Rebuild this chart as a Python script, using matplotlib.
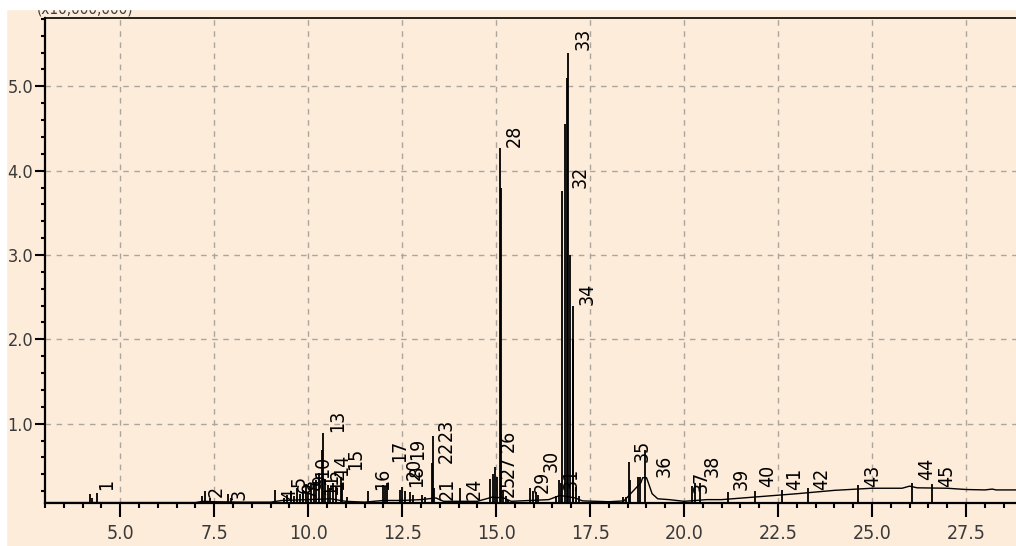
import os
import matplotlib
matplotlib.use('Agg')
import matplotlib.pyplot as plt
import matplotlib.font_manager as fm
from matplotlib.patches import Rectangle
from matplotlib.ticker import MultipleLocator, FormatStrFormatter

# TIC baseline (retention time in min, intensity x10,000,000)
base_rt = [3.0, 7.0, 7.2, 7.5, 8.3, 9.0, 9.3, 10.0, 10.6, 11.0, 11.5, 12.0, 12.5,
           13.0, 13.4, 13.6, 14.5, 14.9, 15.2, 15.4, 15.9, 16.4, 16.7, 17.1, 17.3,
           18.0, 18.4, 18.85, 18.9, 19.0, 19.05, 19.15, 19.3, 19.6, 20.0, 20.3,
           20.6, 21.0, 22.0, 23.0, 24.0, 25.0, 25.8, 26.0, 26.2, 27.0, 27.5, 28.0,
           28.2, 28.3, 28.9]
base_lv = [0.065, 0.065, 0.08, 0.075, 0.07, 0.07, 0.09, 0.10, 0.11, 0.08, 0.07,
           0.09, 0.09, 0.10, 0.12, 0.08, 0.08, 0.13, 0.12, 0.08, 0.09, 0.10, 0.15,
           0.12, 0.085, 0.075, 0.085, 0.30, 0.36, 0.36, 0.30, 0.17, 0.11, 0.10,
           0.08, 0.09, 0.10, 0.10, 0.135, 0.17, 0.21, 0.235, 0.235, 0.26, 0.24,
           0.235, 0.22, 0.215, 0.225, 0.215, 0.215]

# peak apexes
peak_rt = [4.20, 4.25, 4.38, 7.18, 7.26, 7.40, 7.88, 7.95, 9.13, 9.35, 9.45, 9.55,
           9.62, 9.70, 9.78, 9.85, 9.93, 10.00, 10.08, 10.15, 10.22, 10.28, 10.36,
           10.40, 10.45, 10.52, 10.58, 10.65, 10.75, 10.87, 10.90, 11.03, 11.60,
           11.99, 12.04, 12.10, 12.44, 12.50, 12.57, 12.72, 12.80, 13.03, 13.10,
           13.30, 13.33, 13.36, 14.04, 14.85, 14.92, 14.97, 15.02, 15.11, 15.13,
           15.18, 15.25, 15.32, 15.90, 15.97, 16.05, 16.12, 16.60, 16.68, 16.72,
           16.76, 16.83, 16.89, 16.92, 16.96, 17.04, 17.05, 17.12, 17.20, 18.37,
           18.45, 18.53, 18.56, 18.77, 18.84, 18.96, 20.22, 20.30, 20.42, 21.16,
           21.88, 22.60, 23.29, 24.62, 26.06, 26.59]
peak_top = [0.17, 0.12, 0.18, 0.14, 0.20, 0.12, 0.17, 0.12, 0.21, 0.12, 0.15, 0.20,
            0.14, 0.24, 0.17, 0.22, 0.28, 0.19, 0.29, 0.31, 0.33, 0.42, 0.69,
            0.89, 0.35, 0.27, 0.24, 0.30, 0.25, 0.37, 0.30, 0.13, 0.20,
            0.27, 0.25, 0.30, 0.22, 0.25, 0.20, 0.19, 0.16, 0.16, 0.13,
            0.53, 0.85, 0.24, 0.24, 0.34, 0.40, 0.49, 0.37, 4.27, 3.80,
            0.20, 0.14, 0.10, 0.24, 0.20, 0.19, 0.15, 0.14, 0.33, 0.30,
            3.76, 4.55, 5.10, 5.39, 3.00, 2.01, 2.40, 0.25, 0.14, 0.13,
            0.13, 0.55, 0.33, 0.37, 0.37, 0.69, 0.26, 0.30, 0.30, 0.19,
            0.20, 0.21, 0.24, 0.27, 0.30, 0.28]

# peak number labels (lower-left corner of the rotated text)
label_no = list(range(1, 46))
label_x = [4.38, 7.31, 7.92, 9.25, 9.52, 9.68, 9.81, 9.94, 10.07, 10.13, 10.37,
           10.53, 10.53, 10.63, 11.02, 11.72, 12.18, 12.63, 12.65, 12.57, 13.45,
           13.43, 13.43, 14.17, 15.07, 15.07, 15.07, 15.23, 15.98, 16.22, 16.75,
           16.97, 17.05, 17.18, 18.64, 19.22, 20.21, 20.50, 21.27, 21.96, 22.68,
           23.40, 24.76, 26.19, 26.72]
label_y = [0.22, 0.13, 0.10, 0.10, 0.25, 0.18, 0.12, 0.21, 0.27, 0.36, 0.15,
           0.21, 0.90, 0.38, 0.45, 0.21, 0.55, 0.25, 0.57, 0.33, 0.10,
           0.53, 0.80, 0.10, 0.13, 0.66, 0.36, 4.28, 0.18, 0.43, 0.21,
           3.79, 5.43, 2.41, 0.55, 0.37, 0.18, 0.37, 0.21, 0.25, 0.21,
           0.21, 0.25, 0.33, 0.25]

bg = '#FDECDA'

# the original uses a tall narrow font; take a condensed face if one is installed
narrow = ('condensed', 'semi-condensed', 'extra-condensed', 'ultra-condensed')
pref = ['Liberation Sans Narrow', 'DejaVu Sans', 'Noto Sans', 'Roboto', 'Open Sans']
cands = [f for f in fm.fontManager.ttflist
         if f.style == 'normal' and str(f.weight) in ('400', 'normal', 'regular')
         and (f.stretch in narrow or 'Narrow' in f.name or 'Condensed' in f.name
              or 'Condensed' in os.path.basename(f.fname))]
cands.sort(key=lambda f: next((i for i, p in enumerate(pref) if f.name.startswith(p)), 99))
if cands:
    plt.rcParams['font.family'] = [cands[0].name, 'DejaVu Sans']
    plt.rcParams['font.stretch'] = cands[0].stretch
    fsz = 13
else:
    plt.rcParams['font.family'] = ['DejaVu Sans']
    fsz = 11

fig = plt.figure(figsize=(10.16, 5.46), dpi=100, facecolor=bg)
ax = fig.add_axes([45/1016, 1 - 503/546, 1 - 45/1016, (503 - 18)/546])
ax.set_facecolor(bg)

ax.plot(base_rt, base_lv, color='black', lw=1.0, zorder=3)
ax.vlines(peak_rt, 0.06, peak_top, color='black', lw=1.3, zorder=3)

for n, x, y in zip(label_no, label_x, label_y):
    ax.text(x, y, str(n), rotation=90, ha='left', va='bottom', fontsize=fsz + 1,
            color='black', zorder=4)

ax.set_xlim(3.0, 28.83)
ax.set_ylim(0.06, 5.81)
ax.xaxis.set_major_locator(MultipleLocator(2.5))
ax.xaxis.set_minor_locator(MultipleLocator(0.5))
ax.yaxis.set_major_locator(MultipleLocator(1.0))
ax.yaxis.set_minor_locator(MultipleLocator(0.2))
ax.xaxis.set_major_formatter(FormatStrFormatter('%.1f'))
ax.yaxis.set_major_formatter(FormatStrFormatter('%.1f'))

ax.grid(True, which='major', color='#ABA59D', linestyle=(0, (4, 4)), lw=1.0)
ax.set_axisbelow(True)

ax.tick_params(axis='x', which='major', length=10, width=1.5, pad=5,
               labelsize=fsz + 1, labelcolor='#3a3a3a')
ax.tick_params(axis='x', which='minor', length=3.6, width=1.5)
ax.tick_params(axis='y', which='major', length=7, width=1.5, pad=1.5,
               labelsize=fsz, labelcolor='#3a3a3a')
ax.tick_params(axis='y', which='minor', length=3, width=1.5)
for s in ['left', 'bottom']:
    ax.spines[s].set_linewidth(1.6)
ax.spines['top'].set_linewidth(1.2)
ax.spines['right'].set_visible(False)

fig.text(37/1016, 1 - 16/546, '(x10,000,000)', fontsize=fsz - 2, color='#3a3a3a',
         ha='left', va='bottom')
# white margins of the screenshot
fig.patches.append(Rectangle((0, 1 - 9/546), 1, 9/546, transform=fig.transFigure,
                             color='white', zorder=10))
fig.patches.append(Rectangle((0, 0), 6/1016, 1, transform=fig.transFigure,
                             color='white', zorder=10))

fig.savefig('out.png', dpi=100, facecolor=bg)
